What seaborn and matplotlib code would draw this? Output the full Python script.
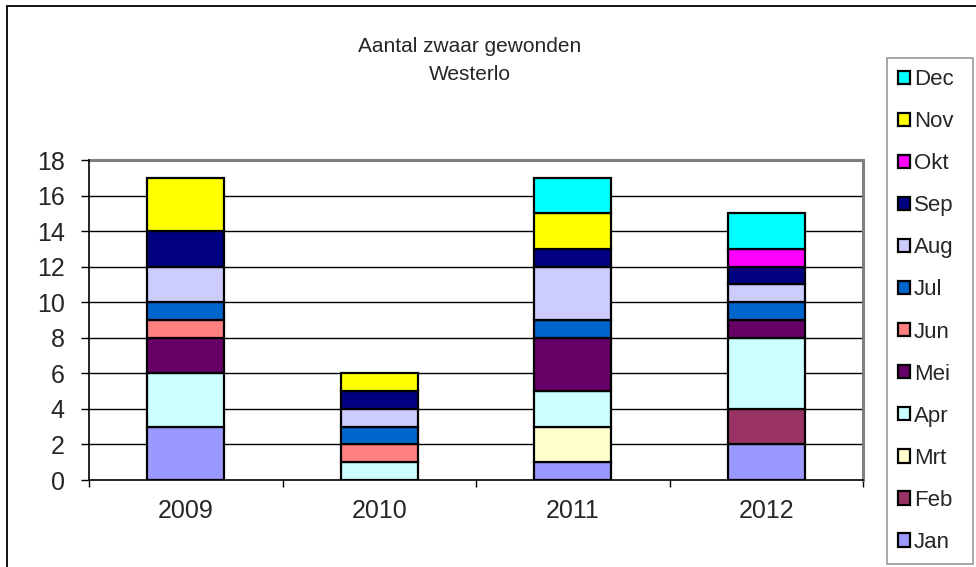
import matplotlib
matplotlib.use("Agg")
import matplotlib.pyplot as plt
from matplotlib.patches import Patch, Rectangle
import numpy as np
import pandas as pd
import seaborn as sns

years = ["2009", "2010", "2011", "2012"]
months = ["Jan", "Feb", "Mrt", "Apr", "Mei", "Jun", "Jul", "Aug", "Sep", "Okt", "Nov", "Dec"]

jan = [3, 0, 1, 2]
feb = [0, 0, 0, 2]
mrt = [0, 0, 2, 0]
apr = [3, 1, 2, 4]
mei = [2, 0, 3, 1]
jun = [1, 1, 0, 0]
jul = [1, 1, 1, 1]
aug = [2, 1, 3, 1]
sep = [2, 1, 1, 1]
okt = [0, 0, 0, 1]
nov = [3, 1, 2, 0]
dec = [0, 0, 2, 2]

y_ticks = [0, 2, 4, 6, 8, 10, 12, 14, 16, 18]

month_colors = ["#9999FF", "#993366", "#FFFFCC", "#CCFFFF", "#660066", "#FF8080",
                "#0066CC", "#CCCCFF", "#000080", "#FF00FF", "#FFFF00", "#00FFFF"]

series = [jan, feb, mrt, apr, mei, jun, jul, aug, sep, okt, nov, dec]

sns.set_theme(style="white")
plt.rcParams["font.family"] = ["Liberation Sans", "DejaVu Sans"]

fig = plt.figure(figsize=(9.76, 5.67), dpi=100)
ax = fig.add_axes([89 / 976, 1 - 480 / 567, (863 - 89) / 976, (480 - 160) / 567])

# stacked bars, one month at a time
bottom = np.zeros(len(years))
for name, vals, col in zip(months, series, month_colors):
    df = pd.DataFrame({"jaar": years, "aantal": vals})
    mask = df["aantal"] > 0
    sns.barplot(data=df[mask], x="jaar", y="aantal", order=years, color=col,
                bottom=bottom[mask.values], width=0.4, edgecolor="black",
                linewidth=1.6, ax=ax, zorder=3, saturation=1)
    bottom += np.array(vals)

ax.set_xlim(-0.5, 3.5)
ax.set_ylim(0, 18)
ax.set_xlabel("")
ax.set_ylabel("")

# gridlines
for t in y_ticks[1:-1]:
    ax.axhline(t, color="black", lw=1.0, zorder=1)

ax.set_yticks(y_ticks)
ax.set_yticklabels([str(t) for t in y_ticks], fontsize=18)
ax.tick_params(axis="y", direction="out", length=5.5, width=1, color="black",
               left=True, pad=12)

# category boundaries get the tick marks, centres get the labels
ax.set_xticks([-0.5, 0.5, 1.5, 2.5, 3.5])
ax.set_xticklabels([])
ax.set_xticks([0, 1, 2, 3], minor=True)
ax.set_xticklabels(years, minor=True, fontsize=18)
ax.tick_params(axis="x", which="major", direction="out", length=5, width=1,
               color="black", bottom=True)
ax.tick_params(axis="x", which="minor", length=0, pad=14, bottom=True)

for side in ["left", "bottom"]:
    ax.spines[side].set_color("black")
    ax.spines[side].set_linewidth(1.2)
    ax.spines[side].set_zorder(4)
for side in ["top", "right"]:
    ax.spines[side].set_color("#808080")
    ax.spines[side].set_linewidth(2.2)

# title
fig.text(470 / 976, 1 - 47 / 567, "Aantal zwaar gewonden", ha="center", va="center", fontsize=15)
fig.text(470 / 976, 1 - 74 / 567, "Westerlo", ha="center", va="center", fontsize=15)

# legend (December on top)
handles = [Patch(facecolor=c, edgecolor="black", linewidth=1.6, label=m)
           for m, c in zip(months, month_colors)][::-1]
leg = fig.legend(handles=handles, loc="upper left",
                 bbox_to_anchor=(887 / 976, 1 - 58 / 567, (973 - 887) / 976, 0),
                 mode="expand", fontsize=16, frameon=True, fancybox=False,
                 borderaxespad=0, handlelength=0.55, handleheight=0.55,
                 handletextpad=0.15, labelspacing=0.948, borderpad=0.5)
leg.get_frame().set_edgecolor("#808080")
leg.get_frame().set_linewidth(1.2)

# outer chart border
fig.add_artist(Rectangle((7 / 976, -0.2), 1.2, 1 - 6 / 567 + 0.2, transform=fig.transFigure,
                         fill=False, edgecolor="black", lw=1.3))

fig.savefig("out.png", dpi=100)
